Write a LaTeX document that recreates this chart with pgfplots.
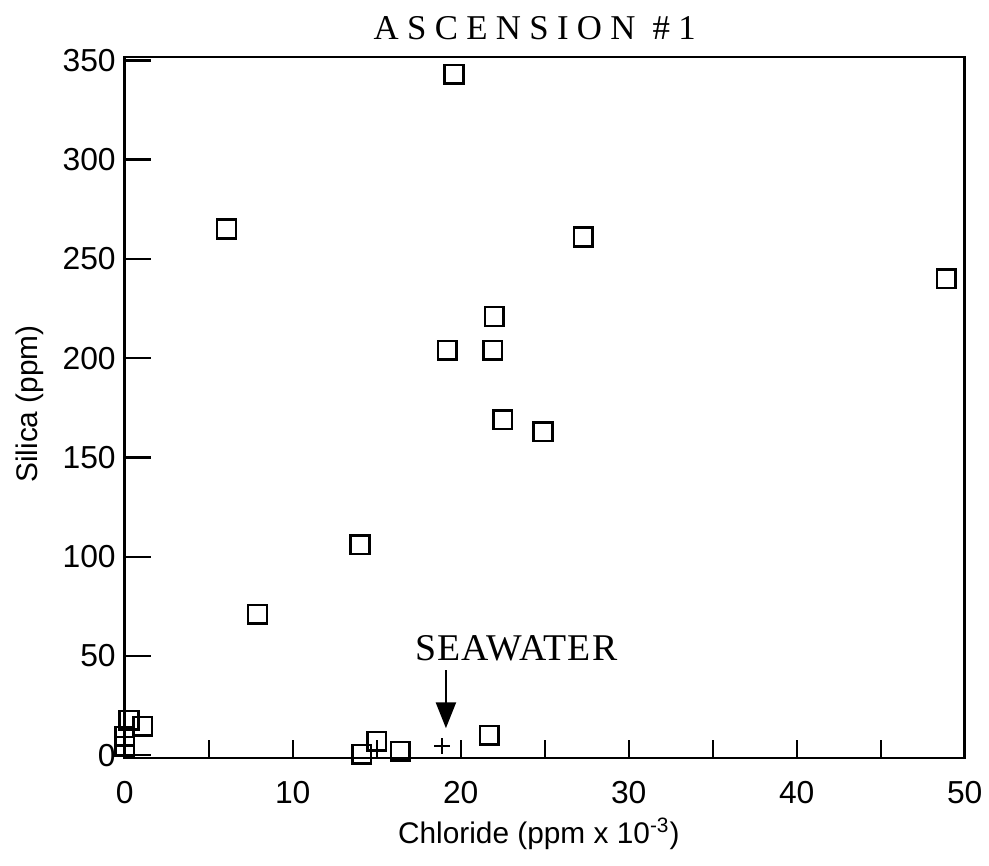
\documentclass[border=0pt]{standalone}
\usepackage{fontspec}
\setmainfont{Liberation Sans}
\newfontfamily\serifface[LetterSpace=3]{Liberation Serif}
\newfontfamily\titleface[LetterSpace=24]{Liberation Serif}
\usepackage{pgfplots}
\pgfplotsset{compat=1.18}
\usetikzlibrary{arrows.meta}

% Silica vs chloride, Ascension #1 wells
\pgfplotstableread{
cl     si
19.6   343
6.06   265
27.3   261
48.9   240
22.0   221
19.2   204
21.9   204
22.5   169
24.9   163
14.0   106
7.9    71
0.25   17.6
1.07   14.6
0.0    9.5
0.0    4.5
14.1   0.5
15.0   7
16.4   2
21.7   10
}\wells

\pgfplotstableread{
cl     si
18.9   4.5
}\seawater

\begin{document}
\begin{tikzpicture}
\begin{axis}[
  scale only axis,
  width=421bp, height=351.5bp,
  xmin=0, xmax=50,
  ymin=-1.5, ymax=351.8,
  axis line style={line width=1.3bp},
  tick pos=left,
  tick align=inside,
  xtick={0,5,...,50},
  xticklabels={0,,10,,20,,30,,40,,50},
  ytick={0,50,...,350},
  major tick length=13bp,
  xtick style={/pgfplots/major tick length=9bp},
  tick style={line width=1.2bp, black},
  /pgf/number format/assume math mode=true,
  ticklabel style={font=\fontsize{16}{18}\selectfont},
  xticklabel style={yshift=-8bp},
  yticklabel style={xshift=-1bp},
  label style={font=\fontsize{15}{17}\selectfont},
  xlabel={Chloride (ppm x 10\textsuperscript{-3})},
  ylabel={Silica (ppm)},
  xlabel style={at={(axis description cs:0.493,-0.108)}, anchor=center},
  ylabel style={at={(axis description cs:-0.1128,0.505)}, anchor=center},
  clip=false,
]
\addplot[only marks, mark=square, mark size=4.7bp,
  mark options={line width=1.3bp, black, fill=white}] table[x=cl, y=si] {\wells};
\addplot[only marks, mark=+, mark size=4bp,
  mark options={line width=0.8bp, black}] table[x=cl, y=si] {\seawater};
\draw[line width=1.3bp, -{Triangle[width=10bp, length=13bp]}]
  (axis cs:19.12,42.7) -- (axis cs:19.12,13.6);
\node[font=\serifface\fontsize{19}{21}\selectfont, anchor=center]
  at (axis cs:23.3,54) {SEAWATER};
\end{axis}
\node[font=\titleface\fontsize{17.5}{20}\selectfont, anchor=center]
  at (205.5bp,366bp) {ASCENSION \#1};
\path[use as bounding box] (-62.5bp,-54bp) rectangle (432bp,380bp);
\end{tikzpicture}
\end{document}
